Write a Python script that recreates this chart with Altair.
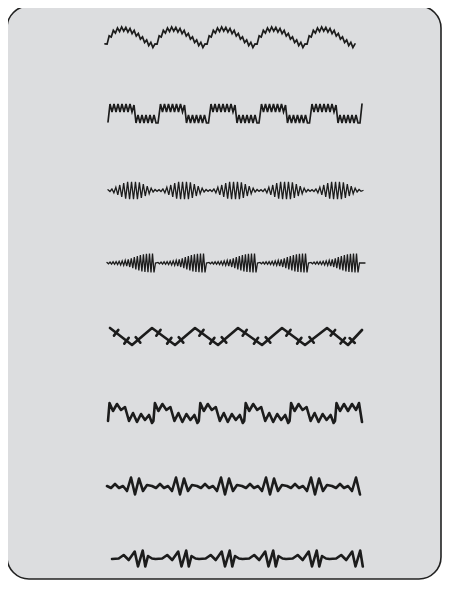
import math
import altair as alt
import pandas as pd

W, H = 434, 572
X_DOMAIN = [8, 8 + W]
Y_DOMAIN = [8, 8 + H]

# ---- Row 1: scalloped arches with fine teeth
R1_X0, R1_PERIOD, R1_COUNT, R1_BASE_Y, R1_TOOTH = 105, 50, 5, 46, 2.1
R1_ARCH = [0, 4, 8, 11, 13.5, 15, 16, 16.5, 17, 17, 16.5, 16, 15.5, 14.5, 13.5,
           12, 10.5, 9, 7, 5.5, 4, 2.5, 1.5, 0.5, 0]

# ---- Row 2: square wave with teeth on the plateaus
R2_START = (108, 122)
R2_X0, R2_PERIOD, R2_COUNT = 110, 50.5, 5
R2_DX = [0, 2, 4, 6, 8, 10, 12, 14, 16, 18, 20, 22, 24,
         26, 28, 30, 32, 34, 36, 38, 40, 42, 44, 46, 48]
R2_Y = [104, 112, 104, 112, 104, 112, 104, 112, 104, 112, 104, 112, 105,
        123, 115, 123, 115, 123, 115, 123, 115, 123, 115, 123, 123]
R2_END = (362, 104)

# ---- Row 3: bursts (amplitude envelope)
R3_X0, R3_PERIOD, R3_COUNT, R3_CENTER_Y = 108, 51, 5, 190.5
R3_ENV = [0.8, 1.0, 1.5, 2.3, 3.3, 4.4, 5.5, 6.5, 7.4, 8.1, 8.6, 8.8, 8.8,
          8.8, 8.8, 8.6, 8.1, 7.4, 6.5, 5.5, 4.4, 3.3, 2.3, 1.5, 1.0, 0.8]

# ---- Row 4: ramping envelope with a drop
R4_X0, R4_PERIOD, R4_COUNT, R4_CENTER_Y = 107, 51, 5, 263
R4_ENV = [0.6, 0.8, 1.0, 1.1, 1.2, 1.3, 1.4, 1.5, 1.7, 1.9, 2.1, 2.4, 2.7, 3.0, 3.5,
          4.0, 4.6, 5.2, 5.8, 6.4, 7.0, 7.5, 8.0, 8.4, 8.7, 9.0, 9.2, 9.3, 9.4, 9.4]
R4_TAIL_DX = [45.5, 47, 48.5]
R4_TAIL_DY = [-9.5, 9.5, 0]

# ---- Row 5: triangle wave with crossing ticks
R5_X = [110, 132, 152, 175, 195, 218, 238, 262, 282, 305, 327, 348, 362]
R5_Y = [328, 345, 328, 345, 328, 345, 328, 345, 328, 345, 328, 345, 330]
R5_TICK_FRACS = [0.28, 0.75]   # on down slopes
R5_UP_TICK_FRACS = [0.3]       # on up slopes
R5_TICK_HALF = 3.6

# ---- Row 6: stepped wave with teeth
R6_X0, R6_PERIOD, R6_COUNT = 108, 45.4, 5
R6_DX = [0, 1.5, 5, 9, 13, 17, 21, 25, 29, 33, 37, 41, 44]
R6_Y = [421, 403, 411, 404, 410, 407, 421, 413, 422, 414, 420, 415, 423]
R6_LAST_DX = [0, 1.5, 5, 9, 13, 17, 21, 24, 27]
R6_LAST_Y = [421, 403, 411, 404, 411, 404, 410, 403, 422]

# ---- Row 7: irregular zigzag
R7_X0, R7_PERIOD, R7_COUNT, R7_CENTER_Y, R7_XMAX = 107, 45, 6, 486, 363
R7_DX = [0, 4, 8, 12, 16, 20, 24, 28, 32, 36, 40]
R7_DY = [0, 2, -2, 2, 0, 5, -8.5, 8.5, -7.5, 5, -1]

# ---- Row 8: flat + zigzag bursts
R8_X0, R8_PERIOD, R8_COUNT, R8_XMAX = 112, 43.5, 6, 363
R8_DX = [0, 6.7, 11.7, 16.7, 22.7, 26, 30.7, 33.3, 36, 40]
R8_Y = [559, 558.5, 555, 560, 551.5, 566.5, 550.5, 566.5, 556, 558.5]

rows_by_width = {1.7: [], 1.3: [], 2.6: []}


def add(rows, key, xs, ys):
    for i, (x, y) in enumerate(zip(xs, ys)):
        rows.append({"key": key, "ord": i, "x": x, "y": y})


# row 1
xs, ys = [], []
n = len(R1_ARCH) - 1
for p in range(R1_COUNT):
    last = p == R1_COUNT - 1
    for i in range(n + (1 if last else 0)):
        xs.append(R1_X0 + p * R1_PERIOD + i * R1_PERIOD / n)
        ys.append(R1_BASE_Y - R1_ARCH[i] + (R1_TOOTH if i % 2 else -R1_TOOTH))
add(rows_by_width[1.7], "r1", xs, ys)

# row 2
xs, ys = [R2_START[0]], [R2_START[1]]
for p in range(R2_COUNT):
    for dx, y in zip(R2_DX, R2_Y):
        xs.append(R2_X0 + p * R2_PERIOD + dx)
        ys.append(y)
xs.append(R2_END[0]); ys.append(R2_END[1])
add(rows_by_width[1.7], "r2", xs, ys)

# row 3
xs, ys = [], []
n = len(R3_ENV)
for p in range(R3_COUNT):
    for i, e in enumerate(R3_ENV):
        xs.append(R3_X0 + p * R3_PERIOD + i * R3_PERIOD / n)
        ys.append(R3_CENTER_Y + (e if i % 2 else -e))
xs.append(R3_X0 + R3_COUNT * R3_PERIOD); ys.append(R3_CENTER_Y)
add(rows_by_width[1.3], "r3", xs, ys)

# row 4
xs, ys = [], []
step = 44.0 / (len(R4_ENV) - 1)
for p in range(R4_COUNT):
    for i, e in enumerate(R4_ENV):
        xs.append(R4_X0 + p * R4_PERIOD + i * step)
        ys.append(R4_CENTER_Y + (e if i % 2 else -e))
    for dx, dy in zip(R4_TAIL_DX, R4_TAIL_DY):
        xs.append(R4_X0 + p * R4_PERIOD + dx)
        ys.append(R4_CENTER_Y + dy)
xs.append(R4_X0 + R4_COUNT * R4_PERIOD + 3); ys.append(R4_CENTER_Y)
add(rows_by_width[1.3], "r4", xs, ys)

# row 5
thick = rows_by_width[2.6]
add(thick, "r5", R5_X, R5_Y)
tick_id = 0
for j in range(len(R5_X) - 1):
    x1, y1, x2, y2 = R5_X[j], R5_Y[j], R5_X[j + 1], R5_Y[j + 1]
    down = y2 > y1
    if abs(y2 - y1) < 10:
        continue
    L = math.hypot(x2 - x1, y2 - y1)
    ux, uy = (x2 - x1) / L, (y2 - y1) / L
    px, py = -uy, ux
    for f in (R5_TICK_FRACS if down else R5_UP_TICK_FRACS):
        cx, cy = x1 + f * (x2 - x1), y1 + f * (y2 - y1)
        add(thick, f"t{tick_id}",
            [cx - px * R5_TICK_HALF, cx + px * R5_TICK_HALF],
            [cy - py * R5_TICK_HALF, cy + py * R5_TICK_HALF])
        tick_id += 1

# row 6
xs, ys = [], []
for p in range(R6_COUNT):
    for dx, y in zip(R6_DX, R6_Y):
        xs.append(R6_X0 + p * R6_PERIOD + dx); ys.append(y)
for dx, y in zip(R6_LAST_DX, R6_LAST_Y):
    xs.append(R6_X0 + R6_COUNT * R6_PERIOD + dx); ys.append(y)
add(thick, "r6", xs, ys)

# row 7
xs, ys = [], []
for p in range(R7_COUNT):
    for dx, dy in zip(R7_DX, R7_DY):
        x = R7_X0 + p * R7_PERIOD + dx
        if x <= R7_XMAX:
            xs.append(x); ys.append(R7_CENTER_Y + dy)
add(thick, "r7", xs, ys)

# row 8
xs, ys = [], []
for p in range(R8_COUNT):
    for dx, y in zip(R8_DX, R8_Y):
        x = R8_X0 + p * R8_PERIOD + dx
        if x <= R8_XMAX:
            xs.append(x); ys.append(y)
add(thick, "r8", xs, ys)

xenc = alt.X("x:Q", scale=alt.Scale(domain=X_DOMAIN, nice=False, zero=False), axis=None)
yenc = alt.Y("y:Q", scale=alt.Scale(domain=Y_DOMAIN, nice=False, zero=False, reverse=True), axis=None)

bg = alt.Chart(pd.DataFrame({"k": [0]})).mark_rect(
    fill="#dcdddf", stroke="#222222", strokeWidth=1.6, cornerRadius=22
).encode(x=alt.value(-1), x2=alt.value(W - 1), y=alt.value(-2), y2=alt.value(H - 1))

layers = [bg]
for sw, rows in rows_by_width.items():
    layers.append(
        alt.Chart(pd.DataFrame(rows)).mark_line(
            color="#1c1c1c", strokeWidth=sw, strokeJoin="miter" if sw < 2 else "round",
            strokeCap="round"
        ).encode(x=xenc, y=yenc, detail="key:N", order="ord:Q")
    )

chart = alt.layer(*layers).properties(
    width=W, height=H, padding=0, autosize="none", background="white"
).configure_view(stroke=None)

chart.save("out.html", embed_options={"renderer": "svg", "actions": False})
